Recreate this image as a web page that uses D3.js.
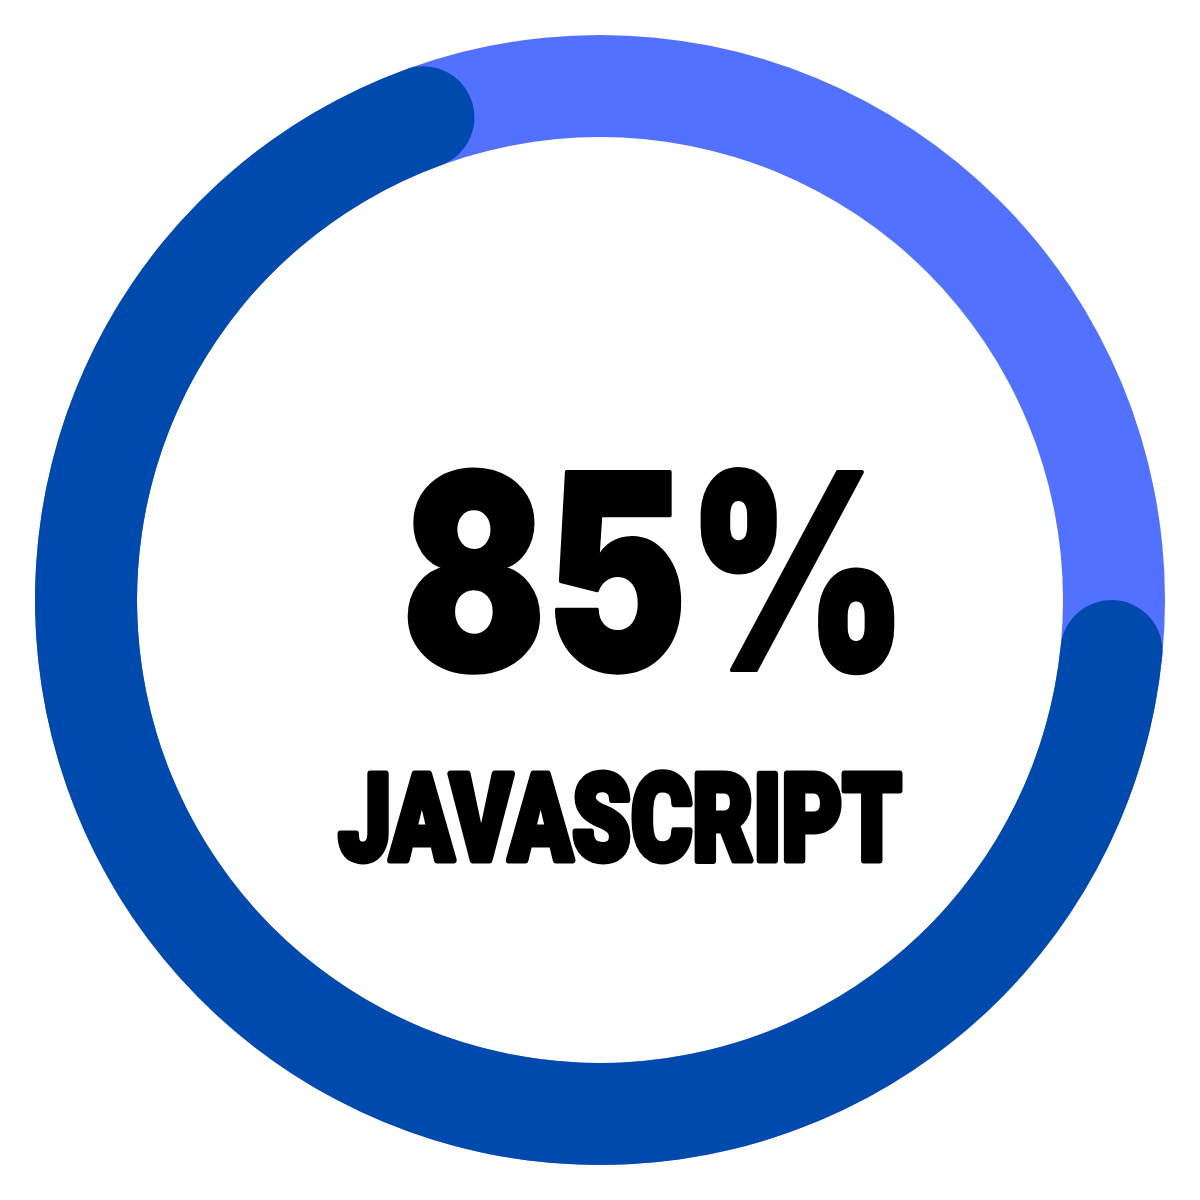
<!DOCTYPE html>
<html>
<head>
<meta charset="utf-8">
<script src="https://cdn.jsdelivr.net/npm/d3@7"></script>
<style>
  html, body { margin: 0; padding: 0; background: #fff; }
  svg { display: block; }
</style>
</head>
<body>
<div id="chart"></div>
<script>
// Values
const skills = ["JAVASCRIPT"];
const percentLabels = [85];
const arcShares = [0.71];   // visible share of the ring that is filled
const colors = ["#004AAD", "#5271FF"];

const drawRing = function (selector) {
  const width = 1200;
  const height = 1200;
  const cx = 600;
  const cy = 600;
  const outer = 565;
  const inner = 463;

  const svg = d3.select(selector).append("svg")
    .attr("width", width)
    .attr("height", height);

  const g = svg.append("g")
    .attr("transform", `translate(${cx},${cy})`);

  // angle scale: ring starts at 3 o'clock and runs clockwise
  const angle = d3.scaleLinear()
    .domain([0, 1])
    .range([Math.PI / 2, Math.PI / 2 + 2 * Math.PI]);

  const arc = d3.arc()
    .innerRadius(inner)
    .outerRadius(outer);

  // background track
  g.append("path")
    .attr("fill", colors[1])
    .attr("d", arc({ startAngle: 0, endAngle: 2 * Math.PI }));

  // progress arc with round ends
  g.selectAll("path.progress")
    .data(arcShares)
    .join("path")
    .attr("class", "progress")
    .attr("fill", colors[0])
    .attr("d", d => d3.arc()
      .innerRadius(inner)
      .outerRadius(outer)
      .cornerRadius((outer - inner) / 2)({ startAngle: angle(0), endAngle: angle(d) }));

  // big percentage
  svg.append("text")
    .attr("x", 655)
    .attr("y", 670)
    .attr("text-anchor", "middle")
    .attr("font-family", "Inter, 'Noto Sans', sans-serif")
    .attr("font-weight", 900)
    .attr("font-size", 272)
    .attr("textLength", 506)
    .attr("lengthAdjust", "spacingAndGlyphs")
    .attr("fill", "#000")
    .attr("stroke", "#000")
    .attr("stroke-width", 4)
    .attr("stroke-linejoin", "round")
    .text(percentLabels[0] + "%");

  // skill name, stroked to get the heavy brush look
  svg.append("text")
    .attr("x", 620)
    .attr("y", 860)
    .attr("text-anchor", "middle")
    .attr("font-family", "Roboto, 'DejaVu Sans', sans-serif")
    .attr("font-weight", 900)
    .attr("font-size", 121)
    .attr("textLength", 563)
    .attr("lengthAdjust", "spacingAndGlyphs")
    .attr("fill", "#000")
    .attr("stroke", "#000")
    .attr("stroke-width", 7)
    .attr("stroke-linejoin", "round")
    .text(skills[0]);
};

drawRing("#chart");
</script>
</body>
</html>
